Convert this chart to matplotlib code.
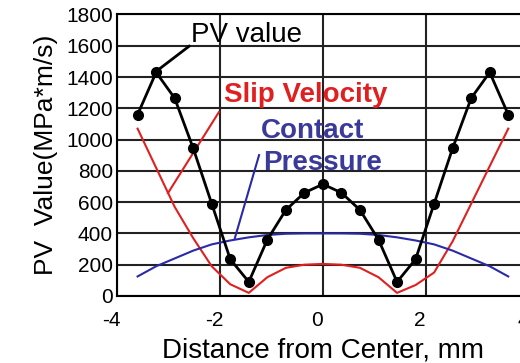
import matplotlib
matplotlib.use("Agg")
import matplotlib.pyplot as plt
from matplotlib.transforms import ScaledTranslation

plt.rcParams['font.family'] = ['Liberation Sans', 'DejaVu Sans']
plt.rcParams['axes.unicode_minus'] = False

# data
x_pos = [-3.6, -3.24, -2.88, -2.52, -2.16, -1.8, -1.44, -1.08, -0.72, -0.36, 0.0,
         0.36, 0.72, 1.08, 1.44, 1.8, 2.16, 2.52, 2.88, 3.24, 3.6]
pv_value = [1160, 1430, 1265, 945, 590, 235, 90, 360, 550, 660, 715,
            660, 550, 360, 90, 235, 590, 945, 1265, 1430, 1160]
slip_velocity = [1070, 820, 570, 370, 190, 75, 20, 120, 180, 200, 205,
                 200, 180, 120, 20, 70, 150, 350, 590, 830, 1070]
contact_pressure = [125, 190, 240, 290, 330, 355, 375, 390, 398, 400, 400,
                    400, 398, 390, 375, 355, 330, 290, 240, 190, 125]

y_ticks = [0, 200, 400, 600, 800, 1000, 1200, 1400, 1600, 1800]
x_ticks = [-4, -2, 0, 2, 4]

fig = plt.figure(figsize=(5.2, 3.63), dpi=100)
ax = fig.add_axes([0.225, 0.1846, 0.792, 0.7755])

ax.plot(x_pos, slip_velocity, color='#e02020', lw=1.5, zorder=3)
ax.plot(x_pos, contact_pressure, color='#2a2aa8', lw=1.5, zorder=3)
ax.plot(x_pos, pv_value, color='black', lw=2, marker='o', ms=7, zorder=4)

# labels with leader lines
ax.plot([-3.26, -2.6], [1431, 1597], color='black', lw=2, zorder=4)
ax.text(-2.56, 1623, 'PV value', fontsize=20, color='black', va='baseline', ha='left')
ax.plot([-3.01, -2.02], [658, 1176], color='#e02020', lw=1.5, zorder=3)
ax.text(-1.93, 1240, 'Slip Velocity', fontsize=20, color='#e02020',
        fontweight='bold', va='baseline', ha='left')
ax.plot([-1.71, -1.24], [371, 901], color='#2a2aa8', lw=1.5, zorder=3)
ax.text(-1.2, 1010, 'Contact', fontsize=20, color='#3a3a9a',
        fontweight='bold', va='baseline', ha='left')
ax.text(-1.17, 805, 'Pressure', fontsize=20, color='#3a3a9a',
        fontweight='bold', va='baseline', ha='left')

ax.set_xlim(-4, 4)
ax.set_ylim(0, 1800)
ax.set_xticks(x_ticks)
ax.set_yticks(y_ticks)
ax.tick_params(length=0, labelsize=15)
ax.tick_params(axis='x', pad=11)
ax.tick_params(axis='y', pad=3)
shift = ScaledTranslation(-0.06, 0, fig.dpi_scale_trans)
for lab in ax.get_xticklabels():
    lab.set_transform(lab.get_transform() + shift)
ax.grid(True, color='#222222', lw=1.5)
ax.set_axisbelow(True)
for s in ax.spines.values():
    s.set_linewidth(1.5)

ax.set_xlabel('Distance from Center, mm', fontsize=20, labelpad=5)
ax.set_ylabel('PV  Value(MPa*m/s)', fontsize=19, labelpad=6)

fig.savefig('out.png', dpi=100)
